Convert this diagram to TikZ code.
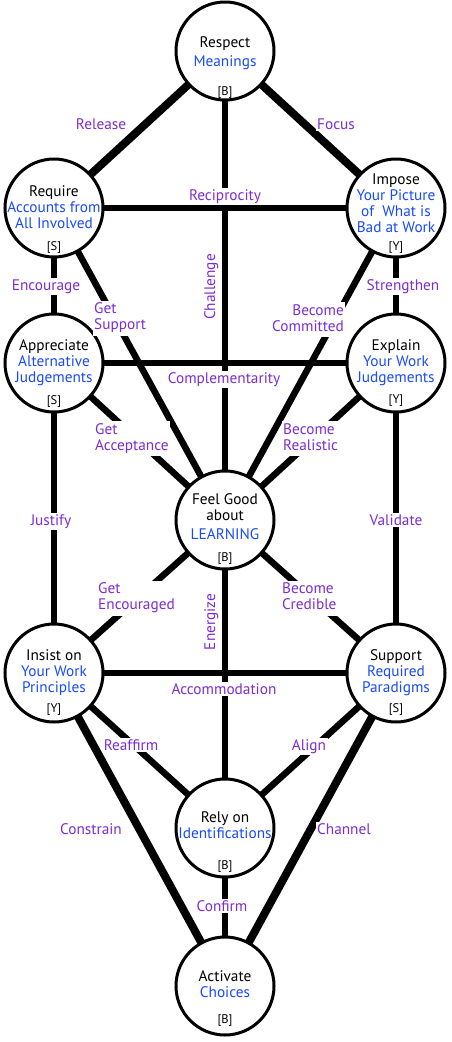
\documentclass[tikz,border=0pt]{standalone}
\usepackage{fontspec}
\setmainfont{PT Sans}
\usetikzlibrary{backgrounds}
\definecolor{lblpurple}{RGB}{125,45,210}
\definecolor{txtblue}{RGB}{25,75,250}
\newcommand\mlc[1]{\begin{tabular}[t]{@{}c@{}}#1\end{tabular}}
\newcommand\mll[1]{\begin{tabular}[t]{@{}l@{}}#1\end{tabular}}
\newcommand\mlr[1]{\begin{tabular}[t]{@{}r@{}}#1\end{tabular}}
\newcommand\bl[1]{\textcolor{txtblue}{#1}}
\begin{document}
\begin{tikzpicture}[x=1pt,y=-1pt,
  circ/.style={circle, draw, line width=3pt, fill=white, minimum size=98pt, inner sep=0pt},
  ntext/.style={anchor=base, inner sep=0pt, font=\fontsize{15.3}{16}\selectfont},
  tag/.style={inner sep=0pt, font=\fontsize{12.5}{13}\selectfont},
  lbl/.style={text=lblpurple, font=\fontsize{15.3}{16}\selectfont, anchor=base, fill=white, inner sep=1.5pt},
  rlbl/.style={text=lblpurple, font=\fontsize{15.3}{16}\selectfont, anchor=base, rotate=90, inner sep=0pt},
  conn/.style={line width=6.5pt},
  connB/.style={line width=8pt}]
\useasboundingbox (0,0) rectangle (451,1042);
% circles
\node[circ] (respect) at (225,51) {};
\node[circ] (require) at (54,208) {};
\node[circ] (impose) at (396,208) {};
\node[circ] (appreciate) at (54,363) {};
\node[circ] (explain) at (396,363) {};
\node[circ] (feel) at (225,520) {};
\node[circ] (insist) at (54,673) {};
\node[circ] (support) at (396,673) {};
\node[circ] (rely) at (225,828) {};
\node[circ] (activate) at (225,986) {};
% connectors
\begin{scope}[on background layer]
\draw[connB] (respect.center) -- (require.center);
\draw[connB] (respect.center) -- (impose.center);
\draw[conn] (respect.center) -- (feel.center);
\draw[conn] (require.center) -- (impose.center);
\draw[conn] (require.center) -- (appreciate.center);
\draw[conn] (require.center) -- (feel.center);
\draw[conn] (impose.center) -- (explain.center);
\draw[conn] (impose.center) -- (feel.center);
\draw[conn] (appreciate.center) -- (explain.center);
\draw[conn] (appreciate.center) -- (feel.center);
\draw[conn] (explain.center) -- (feel.center);
\draw[conn] (appreciate.center) -- (insist.center);
\draw[conn] (explain.center) -- (support.center);
\draw[conn] (feel.center) -- (insist.center);
\draw[conn] (feel.center) -- (support.center);
\draw[conn] (feel.center) -- (rely.center);
\draw[conn] (insist.center) -- (support.center);
\draw[conn] (insist.center) -- (rely.center);
\draw[conn] (support.center) -- (rely.center);
\draw[connB] (insist.center) -- (activate.center);
\draw[connB] (support.center) -- (activate.center);
\draw[conn] (rely.center) -- (activate.center);
\end{scope}
% node texts
\node[ntext] (respect-t) at (225,47.5) {\mlc{Respect\\[3pt]\bl{Meanings}}};
\node[ntext] (require-t) at (54,196) {\mlc{Require\\\bl{Accounts from}\\\bl{All Involved}}};
\node[ntext] (impose-t) at (396,184) {\mlc{Impose\\\bl{Your Picture}\\\bl{of~\ What is}\\\bl{Bad at Work}}};
\node[ntext] (appreciate-t) at (54,350) {\mlc{Appreciate\\\bl{Alternative}\\\bl{Judgements}}};
\node[ntext] (explain-t) at (396,350) {\mlc{Explain\\\bl{Your Work}\\\bl{Judgements}}};
\node[ntext] (feel-t) at (225,504) {\mlc{Feel Good\\about\\[3pt]\bl{LEARNING}}};
\node[ntext] (insist-t) at (54,660) {\mlc{Insist on\\\bl{Your Work}\\\bl{Principles}}};
\node[ntext] (support-t) at (396,660) {\mlc{Support\\\bl{Required}\\\bl{Paradigms}}};
\node[ntext] (rely-t) at (225,822.5) {\mlc{Rely on\\\bl{Identifications}}};
\node[ntext] (activate-t) at (225,981.5) {\mlc{Activate\\\bl{Choices}}};
% tags
\node[tag] (respect-g) at (225,93) {[B]};
\node[tag] (require-g) at (54,247) {[S]};
\node[tag] (impose-g) at (396,248) {[Y]};
\node[tag] (appreciate-g) at (54,401) {[S]};
\node[tag] (explain-g) at (396,401) {[Y]};
\node[tag] (feel-g) at (225,559) {[B]};
\node[tag] (insist-g) at (54,710) {[Y]};
\node[tag] (support-g) at (396,709) {[S]};
\node[tag] (rely-g) at (225,867) {[B]};
\node[tag] (activate-g) at (225,1020) {[B]};
% edge labels
\node[lbl] (l-release) at (101,129) {Release};
\node[lbl] (l-focus) at (336,129) {Focus};
\node[lbl] (l-recip) at (225,200) {Reciprocity};
\node[rlbl] (l-challenge) at (215,287) {Challenge};
\node[lbl] (l-compl) at (224,383) {Complementarity};
\node[lbl] (l-encourage) at (46,290) {Encourage};
\node[lbl] (l-strengthen) at (403,290) {Strengthen};
\node[lbl, anchor=base west] (l-getsupport) at (92.5,313.5) {\mll{Get\\Support}};
\node[lbl, anchor=base east] (l-committed) at (345.5,315) {\mlr{Become\\Committed}};
\node[lbl, anchor=base west] (l-acceptance) at (93.5,434) {\mll{Get\\Acceptance}};
\node[lbl, anchor=base west] (l-realistic) at (281.5,434) {\mll{Become\\Realistic}};
\node[lbl] (l-justify) at (51,525) {Justify};
\node[lbl] (l-validate) at (396,525) {Validate};
\node[lbl, anchor=base west] (l-encouraged) at (96.5,593.5) {\mll{Get\\Encouraged}};
\node[lbl, anchor=base west] (l-credible) at (280.5,593.5) {\mll{Become\\Credible}};
\node[rlbl] (l-energize) at (215,622) {Energize};
\node[lbl] (l-accom) at (224,694) {Accommodation};
\node[lbl] (l-reaffirm) at (131,750) {Reaffirm};
\node[lbl] (l-align) at (309,750) {Align};
\node[lbl] (l-constrain) at (91,834) {Constrain};
\node[lbl] (l-channel) at (344,834) {Channel};
\node[lbl] (l-confirm) at (222,911) {Confirm};
\end{tikzpicture}
\end{document}
